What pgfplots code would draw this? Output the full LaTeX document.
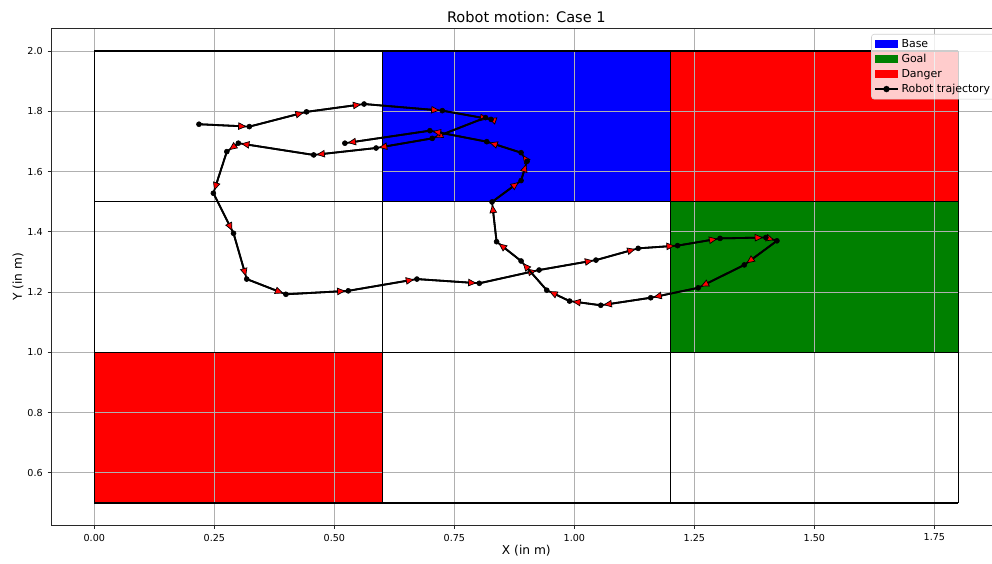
\documentclass[border=0pt]{standalone}
\usepackage{fontspec}
\setmainfont{DejaVu Sans}
\usepackage{pgfplots}
\pgfplotsset{compat=1.18}
\usepackage{pgfplotstable}
\usetikzlibrary{arrows.meta}
\definecolor{mplgreen}{RGB}{0,128,0}
\definecolor{gridgray}{RGB}{176,176,176}
\definecolor{spine}{RGB}{40,40,40}

\pgfplotstableread{
x y
0.218 1.757
0.323 1.749
0.442 1.798
0.562 1.824
0.725 1.802
0.8265 1.773
0.815 1.779
0.704 1.710
0.587 1.678
0.457 1.655
0.300 1.694
0.276 1.666
0.248 1.528
0.290 1.395
0.3175 1.243
0.399 1.1925
0.529 1.204
0.672 1.243
0.802 1.229
0.9265 1.273
1.045 1.306
1.133 1.345
1.215 1.354
1.3035 1.378
1.399 1.381
1.422 1.370
1.354 1.290
1.258 1.214
1.159 1.181
1.055 1.156
0.990 1.170
0.9425 1.206
0.889 1.303
0.838 1.367
0.8285 1.499
0.889 1.570
0.9015 1.634
0.889 1.6625
0.8175 1.699
0.699 1.7355
0.522 1.694
}\traj

\pgfplotstableread{
x y xn yn
0.218 1.757 0.323 1.749
0.323 1.749 0.442 1.798
0.442 1.798 0.562 1.824
0.562 1.824 0.725 1.802
0.725 1.802 0.8265 1.773
0.8265 1.773 0.815 1.779
0.815 1.779 0.704 1.710
0.704 1.710 0.587 1.678
0.587 1.678 0.457 1.655
0.457 1.655 0.300 1.694
0.300 1.694 0.276 1.666
0.276 1.666 0.248 1.528
0.248 1.528 0.290 1.395
0.290 1.395 0.3175 1.243
0.3175 1.243 0.399 1.1925
0.399 1.1925 0.529 1.204
0.529 1.204 0.672 1.243
0.672 1.243 0.802 1.229
0.802 1.229 0.9265 1.273
0.9265 1.273 1.045 1.306
1.045 1.306 1.133 1.345
1.133 1.345 1.215 1.354
1.215 1.354 1.3035 1.378
1.3035 1.378 1.399 1.381
1.399 1.381 1.422 1.370
1.422 1.370 1.354 1.290
1.354 1.290 1.258 1.214
1.258 1.214 1.159 1.181
1.159 1.181 1.055 1.156
1.055 1.156 0.990 1.170
0.990 1.170 0.9425 1.206
0.9425 1.206 0.889 1.303
0.889 1.303 0.838 1.367
0.838 1.367 0.8285 1.499
0.8285 1.499 0.889 1.570
0.889 1.570 0.9015 1.634
0.9015 1.634 0.889 1.6625
0.889 1.6625 0.8175 1.699
0.8175 1.699 0.699 1.7355
0.699 1.7355 0.522 1.694
}\segs

\pgfplotstableread{
x y
0 0.5
0 2.0
nan nan
0.6 0.5
0.6 2.0
nan nan
1.2 0.5
1.2 2.0
nan nan
1.8 0.5
1.8 2.0
nan nan
0 0.5
1.8 0.5
nan nan
0 1.0
1.8 1.0
nan nan
0 1.5
1.8 1.5
nan nan
0 2.0
1.8 2.0
}\cells

\begin{document}
\begin{tikzpicture}
\begin{axis}[
  set layers,
  at={(0,0)}, anchor=south west,
  scale only axis,
  width=684.3pt, height=357.9pt,
  xmin=-0.09, xmax=1.89,
  ymin=0.425, ymax=2.075,
  xtick={0,0.25,0.5,0.75,1,1.25,1.5,1.75},
  ytick={0.6,0.8,1.0,1.2,1.4,1.6,1.8,2.0},
  /pgf/number format/assume math mode=true,
  xticklabel style={font=\fontsize{6.9}{8}\selectfont, /pgf/number format/.cd, fixed, fixed zerofill, precision=2},
  yticklabel style={font=\fontsize{6.9}{8}\selectfont, /pgf/number format/.cd, fixed, fixed zerofill, precision=1},
  scaled ticks=false,
  tick align=outside,
  tick pos=left,
  major tick length=2.5pt,
  major tick style={spine, line width=0.6pt},
  axis line style={spine, line width=0.6pt},
  grid=major,
  major grid style={gridgray, line width=0.6pt},
  every axis title shift=0pt,
  title={Robot motion: Case 1},
  title style={font=\fontsize{10.5}{12}\selectfont, at={(rel axis cs:0.5,1)}, anchor=center, yshift=8.2pt},
  xlabel={X (in m)},
  ylabel={Y (in m)},
  xlabel style={font=\fontsize{8.8}{10}\selectfont, at={(rel axis cs:0.5,0)}, anchor=center, yshift=-18.4pt},
  ylabel style={font=\fontsize{8.8}{10}\selectfont, at={(rel axis cs:0,0.5)}, anchor=center, yshift=23.8pt},
  legend style={at={(rel axis cs:1,1)}, anchor=north east, xshift=-4pt, yshift=-4pt,
    draw=gridgray!60, fill=white, fill opacity=0.8, text opacity=1, draw opacity=1,
    rounded corners=2pt, font=\fontsize{7.9}{9}\selectfont,
    inner xsep=2pt, inner ysep=1.5pt, row sep=-0.6pt},
  legend cell align=left,
  unbounded coords=jump,
]
\addplot[on layer=axis background, fill=blue, draw=none,
  legend image code/.code={\fill[blue, fill opacity=1, sharp corners] (-0.1cm,-0.1cm) rectangle (0.48cm,0.1cm);}]
  coordinates {(0.6,1.5) (1.2,1.5) (1.2,2.0) (0.6,2.0)} --cycle;
\addlegendentry{Base}
\addplot[on layer=axis background, fill=mplgreen, draw=none,
  legend image code/.code={\fill[mplgreen, fill opacity=1, sharp corners] (-0.1cm,-0.1cm) rectangle (0.48cm,0.1cm);}]
  coordinates {(1.2,1.0) (1.8,1.0) (1.8,1.5) (1.2,1.5)} --cycle;
\addlegendentry{Goal}
\addplot[on layer=axis background, fill=red, draw=none,
  legend image code/.code={\fill[red, fill opacity=1, sharp corners] (-0.1cm,-0.1cm) rectangle (0.48cm,0.1cm);}]
  coordinates {(1.2,1.5) (1.8,1.5) (1.8,2.0) (1.2,2.0)} --cycle;
\addlegendentry{Danger}
\addplot[on layer=axis background, fill=red, draw=none, forget plot] coordinates {(0,0.5) (0.6,0.5) (0.6,1.0) (0,1.0)} --cycle;
\addplot[black, line width=0.9pt, no markers, forget plot] table {\cells};
\addplot[black, line width=1.3pt, mark=*, mark size=1.8pt, mark options={fill=black, line width=0.4pt},
  legend image code/.code={\draw[black, line width=1.1pt, fill opacity=1, sharp corners] (-0.1cm,0cm) -- (0.48cm,0cm);
    \fill[black, fill opacity=1] (0.19cm,0cm) circle (1.6pt);}] table {\traj};
\addlegendentry{Robot trajectory}
\addplot[forget plot, no markers, black, line width=1.3pt, shorten >=2pt,
  -{Triangle[length=6pt, width=5.4pt, fill=red, line width=0.5pt]},
  quiver={u={\thisrow{xn}-\thisrow{x}}, v={\thisrow{yn}-\thisrow{y}}}] table {\segs};
\end{axis}
\pgfresetboundingbox
\path[use as bounding box] (-36.8pt,-27.0pt) rectangle (677.4pt,378.35pt);
\end{tikzpicture}
\end{document}
